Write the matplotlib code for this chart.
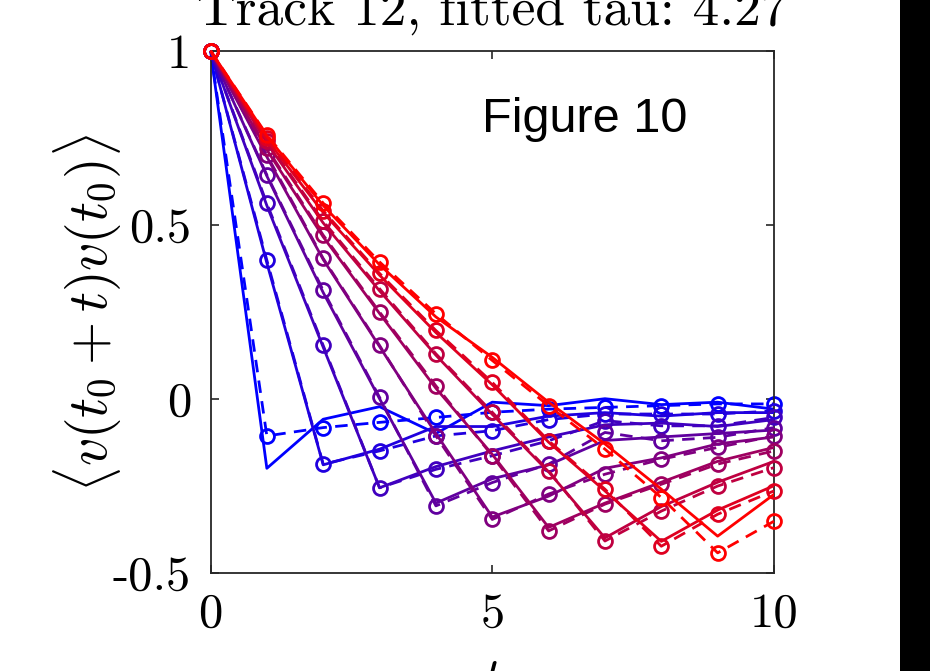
import numpy as np
import matplotlib
matplotlib.use("Agg")
import matplotlib.pyplot as plt
from matplotlib.patches import Rectangle

plt.rcParams['font.family'] = 'cmr10'
plt.rcParams['mathtext.fontset'] = 'cm'
plt.rcParams['axes.formatter.use_mathtext'] = True

t = np.arange(0, 11)

# fitted curves (dashed, circles), one per window k = 1..9
fit = [
    [1, -0.107, -0.083, -0.068, -0.054, -0.039, -0.030, -0.025, -0.020, -0.015, -0.015],
    [1, 0.398, -0.188, -0.150, -0.107, -0.092, -0.060, -0.044, -0.044, -0.044, -0.035],
    [1, 0.561, 0.153, -0.256, -0.203, -0.164, -0.121, -0.063, -0.078, -0.078, -0.054],
    [1, 0.643, 0.311, 0.004, -0.308, -0.241, -0.188, -0.097, -0.121, -0.111, -0.083],
    [1, 0.700, 0.403, 0.153, -0.107, -0.347, -0.274, -0.217, -0.174, -0.140, -0.107],
    [1, 0.720, 0.470, 0.249, 0.037, -0.164, -0.380, -0.303, -0.246, -0.188, -0.150],
    [1, 0.740, 0.510, 0.316, 0.129, -0.039, -0.207, -0.409, -0.323, -0.251, -0.198],
    [1, 0.750, 0.540, 0.360, 0.196, 0.047, -0.121, -0.260, -0.424, -0.332, -0.265],
    [1, 0.758, 0.562, 0.393, 0.244, 0.110, -0.020, -0.145, -0.284, -0.443, -0.352],
]

# measured curves (solid)
data = [
    [1, -0.200, -0.059, -0.023, -0.100, -0.010, -0.020, 0.000, -0.017, -0.010, -0.030],
    [1, 0.390, -0.190, -0.145, -0.080, -0.080, -0.050, -0.040, -0.050, -0.040, -0.040],
    [1, 0.555, 0.148, -0.256, -0.195, -0.150, -0.110, -0.075, -0.070, -0.080, -0.060],
    [1, 0.640, 0.305, 0.000, -0.300, -0.230, -0.190, -0.120, -0.110, -0.100, -0.090],
    [1, 0.695, 0.400, 0.150, -0.100, -0.340, -0.280, -0.200, -0.170, -0.130, -0.110],
    [1, 0.715, 0.465, 0.245, 0.030, -0.160, -0.370, -0.300, -0.240, -0.180, -0.140],
    [1, 0.735, 0.505, 0.310, 0.125, -0.045, -0.210, -0.400, -0.310, -0.240, -0.180],
    [1, 0.745, 0.535, 0.355, 0.190, 0.040, -0.125, -0.265, -0.410, -0.320, -0.250],
    [1, 0.755, 0.555, 0.385, 0.235, 0.119, -0.010, -0.130, -0.260, -0.395, -0.275],
]

title_text = 'Track 12, fitted tau: 4.27'
xticks = [0, 5, 10]
xtick_labels = ['0', '5', '10']
yticks = [-0.5, 0, 0.5, 1]
ytick_labels = ['-0.5', '0', '0.5', '1']

W, H = 930, 671
fig = plt.figure(figsize=(W / 100, H / 100), dpi=100)
ax = fig.add_axes([210.5 / W, 1 - 572.7 / H, (774 - 210.5) / W, (572.7 - 50.7) / H])

n = len(fit)
for i in range(n):
    f = i / (n - 1)
    col = (f, 0, 1 - f)
    ax.plot(t, data[i], '-', color=col, lw=2.0, zorder=2 + i)
    ax.plot(t, fit[i], '--', color=col, lw=2.0, dashes=(4.5, 3),
            marker='o', markersize=10, markerfacecolor='none',
            markeredgewidth=2.0, zorder=2 + i, clip_on=False)

ax.set_xlim(0, 10)
ax.set_ylim(-0.5, 1)
ax.set_xticks(xticks)
ax.set_xticklabels(xtick_labels)
ax.set_yticks(yticks)
ax.set_yticklabels(ytick_labels)
ax.tick_params(direction='in', length=6, width=1.2, color='0.15', labelsize=35,
               top=True, right=True)
ax.tick_params(axis='x', pad=14)
ax.tick_params(axis='y', pad=14)
for s in ax.spines.values():
    s.set_color('0.15')
    s.set_linewidth(1.3)

fig.text(492 / W, 1 - 25 / H, title_text, fontsize=38.5, ha='center', va='baseline')
fig.text(88 / W, 1 - 313 / H, r'$\langle v(t_0+t)v(t_0)\rangle$', fontsize=40,
         rotation=90, ha='center', va='center')
fig.text(492 / W, 1 - 656 / H, r'$t$', fontsize=38, ha='center', va='top')

fig.text(482 / W, 1 - 131.7 / H, 'Figure 10', family='Liberation Sans',
         fontsize=35, va='baseline', ha='left')

fig.patches.append(Rectangle((900 / W, 0), 30 / W, 1, transform=fig.transFigure,
                             facecolor='black', edgecolor='none', zorder=10))

fig.savefig('out.png', dpi=100)
